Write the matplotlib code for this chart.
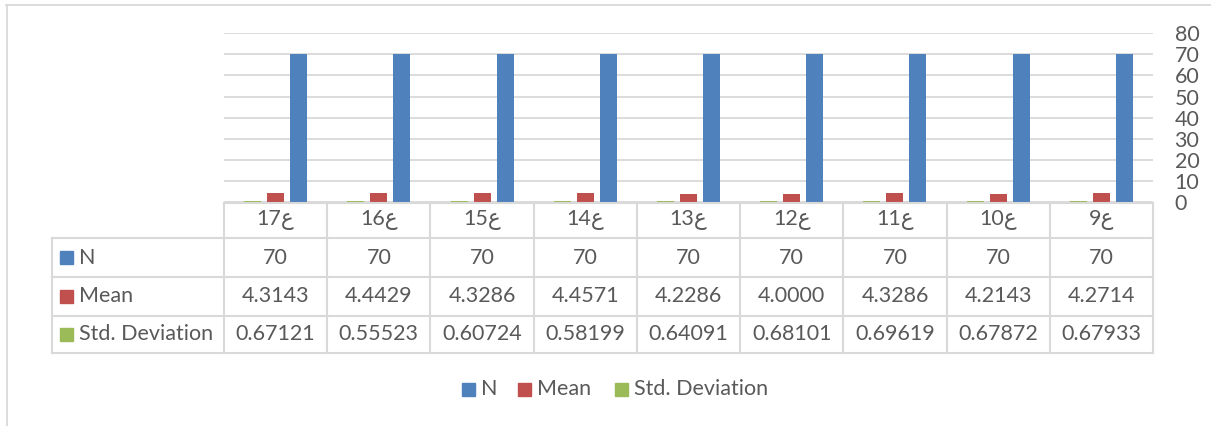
import matplotlib
matplotlib.use("Agg")
import matplotlib.pyplot as plt
from matplotlib.lines import Line2D
from matplotlib.patches import Rectangle
import numpy as np

# ---- data (display order, left to right) ----
categories = ["ع17", "ع16", "ع15", "ع14", "ع13", "ع12", "ع11", "ع10", "ع9"]
series_names = ["N", "Mean", "Std. Deviation"]
n_values = [70, 70, 70, 70, 70, 70, 70, 70, 70]
mean_values = [4.3143, 4.4429, 4.3286, 4.4571, 4.2286, 4.0000, 4.3286, 4.2143, 4.2714]
std_values = [0.67121, 0.55523, 0.60724, 0.58199, 0.64091, 0.68101, 0.69619, 0.67872, 0.67933]
n_labels = ["70"] * 9
mean_labels = ["4.3143", "4.4429", "4.3286", "4.4571", "4.2286", "4.0000", "4.3286", "4.2143", "4.2714"]
std_labels = ["0.67121", "0.55523", "0.60724", "0.58199", "0.64091", "0.68101", "0.69619", "0.67872", "0.67933"]
y_ticks = [0, 10, 20, 30, 40, 50, 60, 70, 80]

colors = {"N": "#4F81BD", "Mean": "#C0504D", "Std. Deviation": "#9BBB59"}
TXT = "#595959"
GRID = "#D9D9D9"
FONT = ["Lato", "DejaVu Sans"]
FS = 15.5

W, H = 1211, 426
fig = plt.figure(figsize=(W / 100, H / 100), dpi=100)

def fx(x):
    return x / W

def fy(y):
    return 1 - y / H

# plot area in pixels
L, R, T, B = 224, 1153, 33, 202.5
ax = fig.add_axes([fx(L), fy(B), fx(R) - fx(L), fy(T) - fy(B)])
ncat = len(categories)
x = np.arange(ncat)
ax.set_xlim(-0.5, ncat - 0.5)
ax.set_ylim(0, 80)
catw = (R - L) / ncat
step = 23 / catw
bw = 17 / catw
ax.bar(x - step, std_values, width=bw, color=colors["Std. Deviation"], zorder=3)
ax.bar(x, mean_values, width=bw, color=colors["Mean"], zorder=3)
ax.bar(x + step, n_values, width=bw, color=colors["N"], zorder=3)
ax.set_yticks(y_ticks)
ax.yaxis.tick_right()
ax.tick_params(axis="y", length=0, pad=15.5, labelsize=FS, labelcolor=TXT)
for lab in ax.get_yticklabels():
    lab.set_fontfamily(FONT)
ax.set_xticks([])
ax.grid(axis="y", color=GRID, linewidth=1.3, zorder=0)
for s in ax.spines.values():
    s.set_visible(False)

def hline(x0, x1, y, c=GRID, lw=1.5):
    fig.add_artist(Line2D([fx(x0), fx(x1)], [fy(y), fy(y)], color=c, linewidth=lw))

def vline(x0, y0, y1, c=GRID, lw=1.5):
    fig.add_artist(Line2D([fx(x0), fx(x0)], [fy(y0), fy(y1)], color=c, linewidth=lw))

# outer chart border
hline(6, W, 4.5, c="#D9D9D9", lw=1.3)
vline(6.5, 4.5, H, c="#D9D9D9", lw=1.3)

# data table
TL = 52
rows_y = [203, 238, 277, 316, 353]
hline(L, R, rows_y[0])
for yy in rows_y[1:]:
    hline(TL, R, yy)
vline(TL, rows_y[1], rows_y[-1])
for i in range(ncat + 1):
    vline(L + i * catw, rows_y[0], rows_y[-1])

def ftext(xp, yp, s, ha="center", **kw):
    fig.text(fx(xp), fy(yp), s, ha=ha, va="center", fontsize=FS, color=TXT, family=FONT, **kw)

row_centers = [(rows_y[i] + rows_y[i + 1]) / 2 for i in range(4)]
for i, cat in enumerate(categories):
    cx = L + (i + 0.5) * catw
    disp = cat[1:] + cat[0]  # visual order for RTL label
    ftext(cx, row_centers[0], disp)
    ftext(cx, row_centers[1], n_labels[i])
    ftext(cx, row_centers[2], mean_labels[i])
    ftext(cx, row_centers[3], std_labels[i])

for r, name in enumerate(series_names):
    yc = row_centers[r + 1]
    fig.add_artist(Rectangle((fx(60), fy(yc + 6.5)), fx(13), 13 / H, color=colors[name]))
    ftext(79, yc, name, ha="left")

# legend
leg_y = 389
leg_items = [(462, "N"), (518, "Mean"), (615, "Std. Deviation")]
for xs, name in leg_items:
    fig.add_artist(Rectangle((fx(xs), fy(leg_y + 6.5)), fx(13), 13 / H, color=colors[name]))
    ftext(xs + 19, leg_y, name, ha="left")

fig.savefig("out.png", dpi=100, facecolor="white")
